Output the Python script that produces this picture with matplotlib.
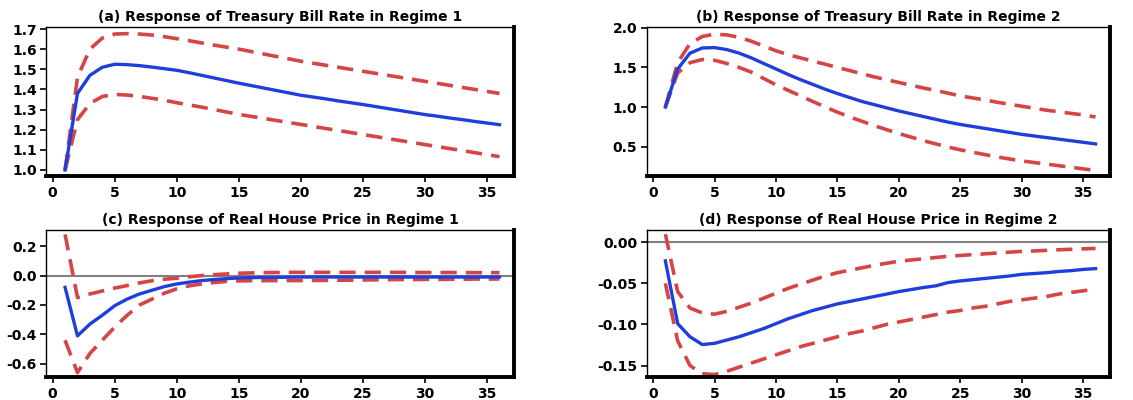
import matplotlib
matplotlib.use("Agg")
import matplotlib.pyplot as plt
import numpy as np

horizon = np.arange(1, 37)

# (a) treasury bill rate, regime 1
tb1_mid = [1.0, 1.38, 1.47, 1.51, 1.525, 1.523, 1.518, 1.511, 1.503, 1.495,
           1.483, 1.47, 1.457, 1.444, 1.431, 1.419, 1.407, 1.395, 1.383, 1.371,
           1.362, 1.353, 1.343, 1.334, 1.325, 1.315, 1.305, 1.295, 1.285, 1.275,
           1.267, 1.258, 1.25, 1.241, 1.233, 1.225]
tb1_hi = [1.0, 1.46, 1.6, 1.655, 1.675, 1.677, 1.675, 1.67, 1.662, 1.652,
          1.642, 1.631, 1.62, 1.61, 1.6, 1.588, 1.576, 1.564, 1.552, 1.54,
          1.53, 1.52, 1.51, 1.5, 1.49, 1.48, 1.47, 1.46, 1.45, 1.44,
          1.43, 1.42, 1.41, 1.4, 1.39, 1.38]
tb1_lo = [1.0, 1.25, 1.33, 1.365, 1.375, 1.372, 1.365, 1.356, 1.346, 1.334,
          1.323, 1.312, 1.3, 1.288, 1.276, 1.266, 1.256, 1.246, 1.236, 1.226,
          1.216, 1.206, 1.196, 1.186, 1.176, 1.166, 1.156, 1.146, 1.136, 1.126,
          1.116, 1.106, 1.096, 1.086, 1.076, 1.066]

# (b) treasury bill rate, regime 2
tb2_mid = [1.0, 1.48, 1.68, 1.745, 1.75, 1.725, 1.68, 1.62, 1.55, 1.48,
           1.41, 1.345, 1.285, 1.225, 1.17, 1.12, 1.07, 1.03, 0.99, 0.95,
           0.915, 0.88, 0.845, 0.81, 0.78, 0.755, 0.73, 0.705, 0.68, 0.655,
           0.635, 0.615, 0.595, 0.575, 0.555, 0.535]
tb2_hi = [1.0, 1.56, 1.8, 1.89, 1.92, 1.91, 1.88, 1.83, 1.77, 1.71,
          1.66, 1.62, 1.58, 1.54, 1.5, 1.46, 1.42, 1.38, 1.345, 1.31,
          1.275, 1.24, 1.21, 1.175, 1.14, 1.115, 1.09, 1.06, 1.035, 1.01,
          0.985, 0.96, 0.94, 0.92, 0.9, 0.875]
tb2_lo = [1.0, 1.43, 1.56, 1.6, 1.59, 1.55, 1.5, 1.44, 1.36, 1.28,
          1.21, 1.14, 1.07, 1.0, 0.935, 0.875, 0.82, 0.765, 0.715, 0.665,
          0.62, 0.575, 0.535, 0.495, 0.46, 0.43, 0.4, 0.37, 0.345, 0.32,
          0.3, 0.28, 0.26, 0.24, 0.22, 0.2]

# (c) real house price, regime 1
hp1_mid = [-0.08, -0.41, -0.33, -0.27, -0.205, -0.16, -0.125, -0.1, -0.075, -0.057,
           -0.045, -0.034, -0.027, -0.021, -0.016, -0.014, -0.013, -0.012, -0.011, -0.01,
           -0.01, -0.01, -0.01, -0.01, -0.01, -0.01, -0.01, -0.01, -0.01, -0.01,
           -0.01, -0.01, -0.01, -0.01, -0.01, -0.01]
hp1_hi = [0.28, -0.15, -0.125, -0.105, -0.085, -0.068, -0.05, -0.035, -0.025, -0.018,
          -0.008, 0.0, 0.006, 0.011, 0.016, 0.018, 0.02, 0.021, 0.022, 0.022,
          0.022, 0.022, 0.022, 0.022, 0.022, 0.022, 0.022, 0.022, 0.021, 0.021,
          0.021, 0.021, 0.02, 0.02, 0.02, 0.02]
hp1_lo = [-0.44, -0.66, -0.53, -0.44, -0.35, -0.27, -0.2, -0.16, -0.12, -0.09,
          -0.07, -0.057, -0.047, -0.04, -0.036, -0.035, -0.035, -0.034, -0.034, -0.034,
          -0.033, -0.033, -0.032, -0.031, -0.03, -0.029, -0.028, -0.027, -0.027, -0.026,
          -0.026, -0.025, -0.025, -0.024, -0.024, -0.023]

# (d) real house price, regime 2
hp2_mid = [-0.0226, -0.099, -0.115, -0.1245, -0.123, -0.119, -0.115, -0.11, -0.105, -0.099,
           -0.093, -0.088, -0.083, -0.079, -0.075, -0.072, -0.069, -0.066, -0.063, -0.06,
           -0.0575, -0.055, -0.053, -0.049, -0.047, -0.0455, -0.044, -0.0425, -0.041, -0.039,
           -0.038, -0.037, -0.0355, -0.0345, -0.033, -0.032]
hp2_hi = [0.01, -0.06, -0.08, -0.086, -0.0875, -0.084, -0.079, -0.074, -0.068, -0.062,
          -0.056, -0.051, -0.046, -0.041, -0.037, -0.034, -0.031, -0.028, -0.0255, -0.023,
          -0.0215, -0.02, -0.0185, -0.017, -0.016, -0.015, -0.014, -0.013, -0.012, -0.011,
          -0.0105, -0.0098, -0.0091, -0.0085, -0.008, -0.0074]
hp2_lo = [-0.05, -0.12, -0.15, -0.16, -0.161, -0.157, -0.152, -0.147, -0.142, -0.137,
          -0.132, -0.127, -0.123, -0.119, -0.115, -0.111, -0.108, -0.104, -0.1, -0.097,
          -0.094, -0.091, -0.088, -0.085, -0.083, -0.08, -0.078, -0.075, -0.072, -0.07,
          -0.068, -0.066, -0.063, -0.061, -0.059, -0.057]

titles = ["(a) Response of Treasury Bill Rate in Regime 1",
          "(b) Response of Treasury Bill Rate in Regime 2",
          "(c) Response of Real House Price in Regime 1",
          "(d) Response of Real House Price in Regime 2"]
series = [(tb1_mid, tb1_hi, tb1_lo), (tb2_mid, tb2_hi, tb2_lo),
          (hp1_mid, hp1_hi, hp1_lo), (hp2_mid, hp2_hi, hp2_lo)]
yticks = [[1.0, 1.1, 1.2, 1.3, 1.4, 1.5, 1.6, 1.7],
          [0.5, 1.0, 1.5, 2.0],
          [-0.6, -0.4, -0.2, 0.0, 0.2],
          [-0.15, -0.10, -0.05, 0.00]]
ytick_fmt = ["%.1f", "%.1f", "%.1f", "%.2f"]
ylims = [(0.97, 1.71), (0.13, 2.01), (-0.69, 0.31), (-0.164, 0.015)]
zero_line = [False, False, True, True]

positions = [[0.041, 0.56, 0.413, 0.3725],
             [0.571, 0.56, 0.409, 0.3725],
             [0.041, 0.0575, 0.413, 0.3675],
             [0.571, 0.0575, 0.409, 0.3675]]

blue = "#1f3fdc"
red = "#d64545"

fig = plt.figure(figsize=(11.33, 4.0), dpi=100)
for i in range(4):
    ax = fig.add_axes(positions[i])
    mid, hi, lo = series[i]
    if zero_line[i]:
        ax.axhline(0, color="#808080", lw=1.5, zorder=1)
    ax.plot(horizon, hi, color=red, lw=2.6, ls=(0, (4.5, 2.5)), zorder=2)
    ax.plot(horizon, lo, color=red, lw=2.6, ls=(0, (4.5, 2.5)), zorder=2)
    ax.plot(horizon, mid, color=blue, lw=2.4, zorder=3)
    ax.set_xlim(-0.5, 37.2)
    ax.set_ylim(*ylims[i])
    ax.set_xticks([0, 5, 10, 15, 20, 25, 30, 35])
    ax.set_yticks(yticks[i])
    ax.set_yticklabels([ytick_fmt[i] % v for v in yticks[i]])
    ax.tick_params(direction="out", length=4, width=1.2, pad=3,
                   labelsize=10)
    for lab in ax.get_xticklabels() + ax.get_yticklabels():
        lab.set_fontweight("bold")
    ax.spines["left"].set_linewidth(1.0)
    ax.spines["top"].set_linewidth(1.0)
    ax.spines["right"].set_linewidth(2.8)
    ax.spines["bottom"].set_linewidth(2.8)
    ax.set_title(titles[i], fontsize=10, fontweight="bold", pad=4)

fig.savefig("out.png", dpi=100)
